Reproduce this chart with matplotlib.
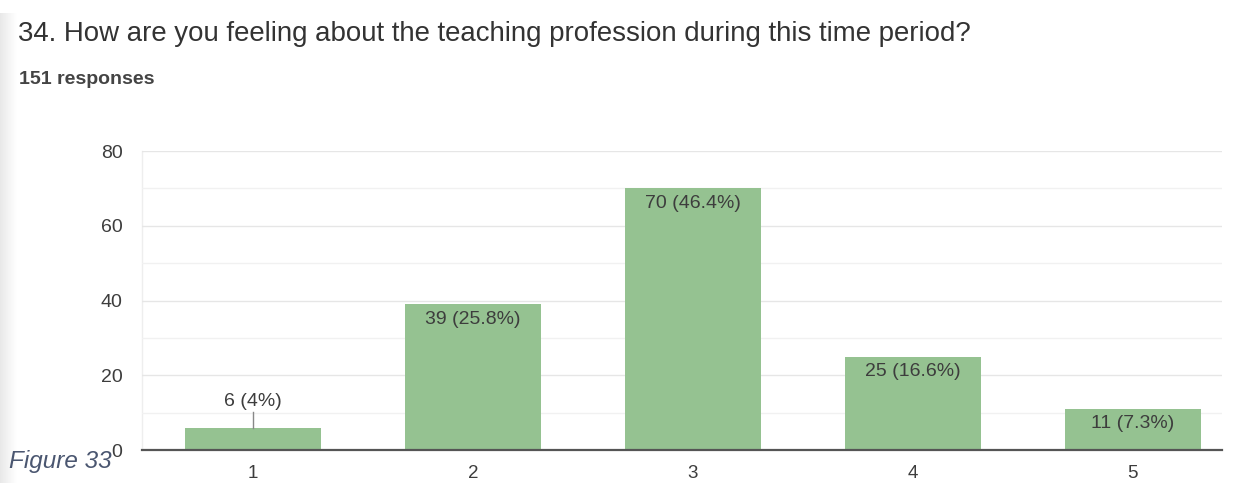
import matplotlib.pyplot as plt
import numpy as np

plt.rcParams["font.family"] = ["Liberation Sans", "DejaVu Sans"]

title = "34. How are you feeling about the teaching profession during this time period?"
subtitle = "151 responses"
caption = "Figure 33"

ratings = ["1", "2", "3", "4", "5"]
counts = [6, 39, 70, 25, 11]
percents = ["4%", "25.8%", "46.4%", "16.6%", "7.3%"]

bar_color = "#95c291"
text_color = "#3d3d3d"

fig = plt.figure(figsize=(12.35, 4.83), dpi=100)
fig.patch.set_facecolor("white")

# soft grey shading down the left edge of the page
shade = fig.add_axes([0, 0, 0.013, 0.973])
shade.imshow(np.linspace(0.91, 1.0, 64)[None, :], aspect="auto", cmap="gray",
             vmin=0, vmax=1, extent=[0, 1, 0, 1])
shade.axis("off")

ax = fig.add_axes([0.115, 0.0683, 0.8745, 0.619])
x = np.arange(1, len(ratings) + 1)
ax.bar(x, counts, width=0.615, color=bar_color, zorder=3)

ax.set_xlim(0.495, 5.405)
ax.set_ylim(0, 80)
ax.set_yticks([0, 20, 40, 60, 80])
ax.set_yticks([10, 30, 50, 70], minor=True)
ax.set_xticks(x)
ax.set_xticklabels(ratings)
ax.grid(axis="y", which="major", color="#e6e6e6", lw=1.0, zorder=0)
ax.grid(axis="y", which="minor", color="#f1f1f1", lw=1.0, zorder=0)
ax.tick_params(axis="both", which="both", length=0, labelcolor=text_color)
ax.tick_params(axis="y", labelsize=14, pad=14)
ax.tick_params(axis="x", labelsize=13.5, pad=11)
for side in ["top", "right", "left"]:
    ax.spines[side].set_visible(False)
ax.spines["bottom"].set_color("#555555")
ax.spines["bottom"].set_linewidth(1.6)
ax.spines["bottom"].set_zorder(4)
ax.plot([0.495, 0.495], [0, 80], color="#eeeeee", lw=1.0, zorder=1, clip_on=False)

for xi, c, p in zip(x, counts, percents):
    label = f"{c} ({p})"
    if c < 10:
        # small bar: label sits above with a leader line
        ax.annotate(label, (xi, c), xytext=(0, 18.5), textcoords="offset points",
                    ha="center", va="center", fontsize=14, color=text_color,
                    zorder=5)
        ax.plot([xi, xi], [c, c + 4.2], color="#888888", lw=1.0, zorder=4)
    else:
        ax.annotate(label, (xi, c), xytext=(0, -4.5), textcoords="offset points",
                    ha="center", va="top", fontsize=14, color=text_color,
                    zorder=5)

fig.text(0.0146, 0.93, title, fontsize=19.9, color="#333333", va="center")
fig.text(0.0154, 0.836, subtitle, fontsize=14, color="#444444",
         fontweight="bold", va="center")
fig.text(0.007, 0.031, caption, fontsize=17.5, color="#4a5670",
         style="italic", va="baseline")

fig.savefig("out.png", dpi=100)
